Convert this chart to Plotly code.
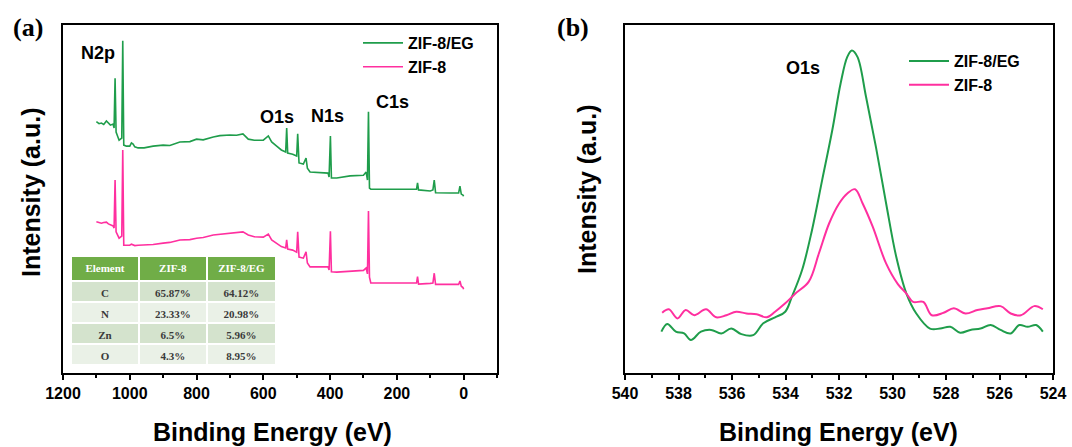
import plotly.graph_objects as go

W, H = 1072, 447

# ---------------- Panel (a): XPS survey ----------------
survey_be = [1100, 1092, 1085, 1078, 1070, 1064, 1058, 1050, 1047, 1044, 1041, 1032, 1024, 1021, 1018,
             1010, 1000, 995, 990, 985, 975, 957, 930, 900, 880, 850, 820, 800, 780, 750, 730, 700,
             680, 661, 645, 627, 600, 585, 575, 560, 546, 533, 530, 527, 512, 500, 497, 493, 480,
             472, 468, 460, 440, 420, 406, 403, 399, 396, 380, 340, 300, 292, 288, 285, 282, 278,
             250, 200, 150, 141, 138, 135, 100, 92, 88, 84, 40, 15, 11, 7, 2, 0]

survey_eg = [72.4, 71.8, 72.0, 71.6, 72.6, 71.9, 71.4, 71.7, 70.6, 84.8, 69.4, 67.1, 67.7, 95.5, 65.7,
             65.4, 65.4, 66.3, 66.0, 65.2, 64.9, 64.9, 65.4, 65.7, 65.6, 66.6, 66.7, 67.4, 67.2, 68.0, 68.4, 68.6,
             68.5, 68.9, 67.4, 67.1, 67.1, 68.3, 66.6, 65.4, 64.3, 63.7, 70.6, 63.4, 63.1, 62.6, 68.9, 60.6, 60.3,
             62.0, 59.1, 58.0, 57.9, 57.7, 57.7, 56.6, 68.3, 56.3, 56.3, 56.9, 57.1, 58.0, 55.7, 75.2, 53.4, 53.1,
             53.1, 53.1, 53.0, 53.1, 54.9, 52.9, 52.6, 52.9, 55.7, 52.1, 52.0, 52.0, 54.0, 51.7, 51.4, 51.1]

survey_zif = [43.8, 43.5, 43.4, 43.6, 43.7, 43.2, 42.9, 42.6, 42.0, 55.7, 40.9, 39.1, 39.7, 64.3, 37.1,
              37.1, 37.1, 37.4, 37.3, 37.0, 37.1, 37.1, 37.3, 37.7, 37.9, 38.6, 38.7, 39.1, 39.3, 40.0, 40.2, 40.6,
              40.7, 40.9, 40.0, 39.5, 39.4, 40.3, 38.6, 37.7, 36.7, 36.3, 38.6, 36.0, 35.7, 35.1, 40.9, 33.7, 33.4,
              35.2, 32.0, 30.9, 31.0, 30.9, 30.9, 30.0, 41.1, 29.5, 29.4, 29.6, 29.9, 30.6, 28.9, 46.9, 28.0, 26.3,
              26.3, 26.3, 26.3, 26.3, 28.1, 26.0, 26.2, 26.3, 29.1, 25.9, 25.9, 25.9, 26.9, 25.4, 25.0, 24.5]

# ---------------- Panel (b): O1s high resolution ----------------
o1s_be_eg = [538.64, 538.42, 538.10, 537.79, 537.54, 537.16, 536.78, 536.40, 536.03, 535.65,
             535.21, 534.83, 534.39, 534.01, 533.76, 533.38, 533.01, 532.63, 532.25, 531.94,
             531.69, 531.52, 531.31, 530.99, 530.62, 530.24, 529.86, 529.48, 529.11, 528.60,
             528.22, 527.84, 527.47, 527.09, 526.71, 526.33, 525.96, 525.58, 525.26, 524.95,
             524.63, 524.38]
o1s_py_eg = [331.7, 324, 331.7, 333.3, 340, 331.7, 330, 333.3, 328.3, 334,
             335, 323.3, 317.3, 311.7, 296.7, 270, 230, 180, 130, 83.3,
             56.7, 50.7, 56.7, 96.7, 146.7, 203.3, 256.7, 293.3, 313.3, 328.3,
             328.3, 326.7, 332.7, 330, 328.3, 325, 330, 333.3, 325, 326.7,
             325, 331.7]
o1s_eg = [round((375 - p) / 3.5, 1) for p in o1s_py_eg]

o1s_be_zif = [538.61, 538.36, 538.04, 537.73, 537.41, 536.97, 536.59, 536.21, 535.84, 535.46,
              535.08, 534.70, 534.39, 534.01, 533.63, 533.13, 532.75, 532.37, 531.99, 531.69,
              531.40, 531.12, 530.74, 530.24, 529.80, 529.48, 529.23, 528.85, 528.53, 528.09,
              527.71, 527.27, 526.83, 526.45, 525.96, 525.58, 525.20, 524.70, 524.38]
o1s_py_zif = [312.7, 309.3, 318.3, 310, 315, 309.3, 317.3, 315, 311.7, 313.3,
              314, 317.3, 311.7, 303.3, 293.3, 281.7, 253.3, 223.3, 203.3, 193.3,
              189.3, 203.3, 226.7, 263.3, 284, 293.3, 301.7, 301.7, 315, 312.7,
              308.3, 313.3, 310, 308.3, 306, 313.3, 315, 306, 309.3]
o1s_zif = [round((375 - p) / 3.5, 1) for p in o1s_py_zif]

# ---------------- Table ----------------
tab_header = ["Element", "ZIF-8", "ZIF-8/EG"]
tab_element = ["C", "N", "Zn", "O"]
tab_zif8 = ["65.87%", "23.33%", "6.5%", "4.3%"]
tab_zif8eg = ["64.12%", "20.98%", "5.96%", "8.95%"]

series_names = ["ZIF-8/EG", "ZIF-8"]
GREEN = "#1f9d4b"
PINK = "#ff2f9f"

fig = go.Figure()

fig.add_trace(go.Scatter(x=survey_be, y=survey_eg, mode="lines", name=series_names[0],
                         line=dict(color=GREEN, width=1.6), xaxis="x", yaxis="y", legend="legend"))
fig.add_trace(go.Scatter(x=survey_be, y=survey_zif, mode="lines", name=series_names[1],
                         line=dict(color=PINK, width=1.6), xaxis="x", yaxis="y", legend="legend"))
fig.add_trace(go.Scatter(x=o1s_be_eg, y=o1s_eg, mode="lines", name=series_names[0],
                         line=dict(color=GREEN, width=2, shape="spline"), xaxis="x2", yaxis="y2", legend="legend2"))
fig.add_trace(go.Scatter(x=o1s_be_zif, y=o1s_zif, mode="lines", name=series_names[1],
                         line=dict(color=PINK, width=2, shape="spline"), xaxis="x2", yaxis="y2", legend="legend2"))

dark_row = "#d4e3cd"
light_row = "#eaf1e7"
row_colors = [dark_row, light_row, dark_row, light_row]
fig.add_trace(go.Table(
    domain=dict(x=[71 / W, 277 / W], y=[(H - 366) / H, (H - 256) / H]),
    columnwidth=[1, 1, 1.02],
    header=dict(values=tab_header,
                fill_color="#70ad47", line=dict(color="white", width=2),
                font=dict(family="Liberation Serif", size=11, color="white", weight="bold"),
                align="center", height=25),
    cells=dict(values=[tab_element, tab_zif8, tab_zif8eg],
               fill_color=[row_colors] * 3, line=dict(color="white", width=2),
               font=dict(family="Liberation Serif", size=11, color="#3a3a3a", weight="bold"),
               align="center", height=21),
))

y_dom = [(H - 373) / H, (H - 25) / H]
tickfont = dict(family="Liberation Sans", size=16, color="black", weight="bold")
common_x = dict(showline=True, linecolor="black", linewidth=2, mirror=True, ticks="outside",
                ticklen=5, tickwidth=2, tickcolor="black", showgrid=False, zeroline=False,
                tickfont=tickfont, automargin=False)
common_y = dict(showline=True, linecolor="black", linewidth=2, mirror=True, ticks="",
                showticklabels=False, showgrid=False, zeroline=False, automargin=False)

fig.update_layout(
    width=W, height=H, margin=dict(l=0, r=0, t=0, b=0, autoexpand=False),
    paper_bgcolor="white", plot_bgcolor="white", showlegend=True,
    xaxis=dict(domain=[63 / W, 497 / W], range=[1200, -100], tickmode="array",
               tickvals=[1200, 1000, 800, 600, 400, 200, 0],
               minor=dict(ticks="outside", ticklen=3, tickwidth=2, tickcolor="black", dtick=100),
               anchor="y", **common_x),
    yaxis=dict(domain=y_dom, range=[0.6, 100], anchor="x", **common_y),
    xaxis2=dict(domain=[625 / W, 1053 / W], range=[540, 524], dtick=2,
                minor=dict(ticks="outside", ticklen=3, tickwidth=2, tickcolor="black", dtick=1),
                anchor="y2", **common_x),
    yaxis2=dict(domain=y_dom, range=[0.6, 100], anchor="x2", **common_y),
    legend=dict(x=358 / W, y=(H - 26) / H, xanchor="left", yanchor="top",
                bgcolor="rgba(0,0,0,0)", font=dict(family="Liberation Sans", size=16, color="black", weight="bold"),
                tracegroupgap=0, itemwidth=40),
    legend2=dict(x=904 / W, y=(H - 44) / H, xanchor="left", yanchor="top",
                 bgcolor="rgba(0,0,0,0)", font=dict(family="Liberation Sans", size=16, color="black", weight="bold"),
                 tracegroupgap=0, itemwidth=40),
)

def ann(text, x, y, size, family="Liberation Sans", angle=0):
    fig.add_annotation(text=text, x=x / W, y=(H - y) / H, xref="paper", yref="paper",
                       showarrow=False, xanchor="center", yanchor="middle", textangle=angle,
                       font=dict(family=family, size=size, color="black", weight="bold"))

ann("N2p", 98, 53, 18)
ann("O1s", 277, 117, 18)
ann("N1s", 327, 116, 18)
ann("C1s", 392, 102, 18)
ann("O1s", 803, 68, 18)
ann("Intensity (a.u.)", 31, 193, 25, angle=-90)
ann("Intensity (a.u.)", 587, 190, 25, angle=-90)
ann("Binding Energy (eV)", 272, 432, 25)
ann("Binding Energy (eV)", 838, 432, 25)
ann("(a)", 28, 28, 26, family="Liberation Serif")
ann("(b)", 573, 28, 26, family="Liberation Serif")

fig.write_html("out.html", config={"displayModeBar": False},
               post_script="document.body.style.margin='0';document.body.style.overflow='hidden';")
